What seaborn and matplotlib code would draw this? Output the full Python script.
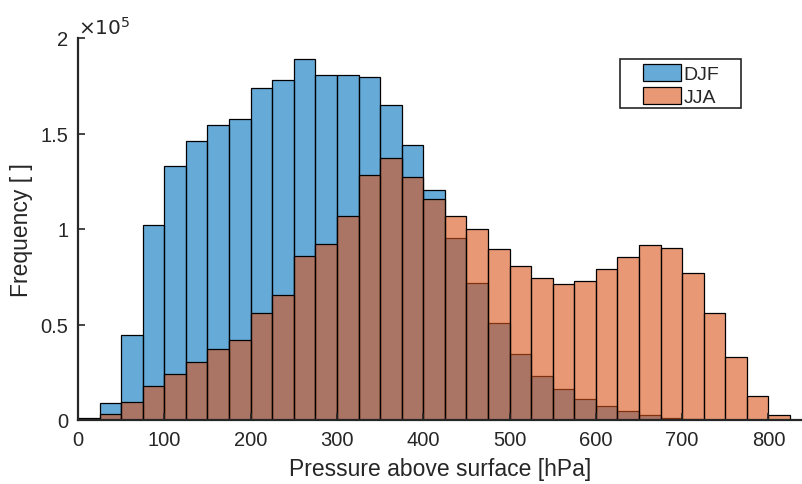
"""
Histogram of pressure above surface, DJF vs JJA
"""
#------------------------------------------------------------------------------
# Libraries
#------------------------------------------------------------------------------

import numpy as np
import pandas as pd
import seaborn as sns
import matplotlib
matplotlib.use('Agg')
import matplotlib.pyplot as plt
from matplotlib.patches import Rectangle
from matplotlib.ticker import FuncFormatter

#------------------------------------------------------------------------------
# Data (counts per 25 hPa bin)
#------------------------------------------------------------------------------

bin_edges = list(range(0, 851, 25))
bin_centers = [e + 12.5 for e in bin_edges[:-1]]

djf_counts = [1000, 9000, 44300, 102000, 133100, 145900, 154300, 157800,
              173700, 177800, 188800, 180500, 180600, 179800, 164900, 143800,
              120300, 95100, 71600, 50600, 34400, 23200, 16000, 11000,
              7500, 4900, 2800, 1200, 400, 100, 0, 0, 0, 0]
jja_counts = [500, 3000, 9400, 18000, 24100, 30200, 37000, 41700,
              56000, 65400, 86000, 92100, 106600, 128300, 137200, 127100,
              115700, 107000, 100000, 89700, 80500, 74300, 71400, 72800,
              79100, 85500, 91600, 89900, 77000, 55900, 33100, 12600,
              2800, 200]

seasons = ['DJF', 'JJA']
colors = {'DJF': '#0072BD', 'JJA': '#D95319'}

df = pd.DataFrame({
    'pressure': bin_centers + bin_centers,
    'count': djf_counts + jja_counts,
    'season': ['DJF'] * len(bin_centers) + ['JJA'] * len(bin_centers),
})

#------------------------------------------------------------------------------
# Plot
#------------------------------------------------------------------------------

sns.set_style('white')
plt.rcParams['font.family'] = ['Liberation Sans', 'DejaVu Sans']

fig = plt.figure(figsize=(8.03, 4.85), dpi=100)
ax = fig.add_axes([78 / 803, 64 / 485, 725 / 803, 382 / 485])

for s in seasons:
    sub = df[df['season'] == s]
    sns.histplot(data=sub, x='pressure', weights='count', bins=bin_edges,
                 color=colors[s], alpha=0.6, edgecolor='black',
                 linewidth=0.9, label=s, ax=ax)

ax.set_xlim(0, 840)
ax.set_ylim(0, 2e5)
ax.set_xticks(np.arange(0, 801, 100))
ax.set_yticks(np.arange(0, 2.01e5, 0.5e5))
ax.yaxis.set_major_formatter(FuncFormatter(lambda v, p: f'{v / 1e5:g}'))

ax.tick_params(direction='in', length=5, width=1.2, colors='#262626',
               labelsize=14.5, pad=7, bottom=True, left=True)
ax.set_axisbelow(False)
for side in ['top', 'right']:
    ax.spines[side].set_visible(False)
for side in ['left', 'bottom']:
    ax.spines[side].set_color('#262626')
    ax.spines[side].set_linewidth(1.6)

ax.text(0.0, 1.0, r'$\times10^{5}$', transform=ax.transAxes,
        fontsize=14.5, color='#262626', ha='left', va='bottom')

ax.set_xlabel('Pressure above surface [hPa]', fontsize=16.5, color='#262626',
              labelpad=6)
ax.set_ylabel('Frequency [ ]', fontsize=16.5, color='#262626', labelpad=5)

# legend, frame drawn separately to get MATLAB-like padding
leg = ax.legend(loc='upper left', bbox_to_anchor=(0.779, 0.932),
                fontsize=14, frameon=False,
                handlelength=1.95, handleheight=0.95, handletextpad=0.15,
                borderpad=0, labelspacing=0.2, borderaxespad=0)
ax.add_patch(Rectangle((0.7476, 0.8168), 0.1669, 0.128,
                       transform=ax.transAxes, fill=False,
                       edgecolor='#262626', linewidth=1.2, clip_on=False,
                       zorder=5))

plt.savefig('out.png', dpi=100)
